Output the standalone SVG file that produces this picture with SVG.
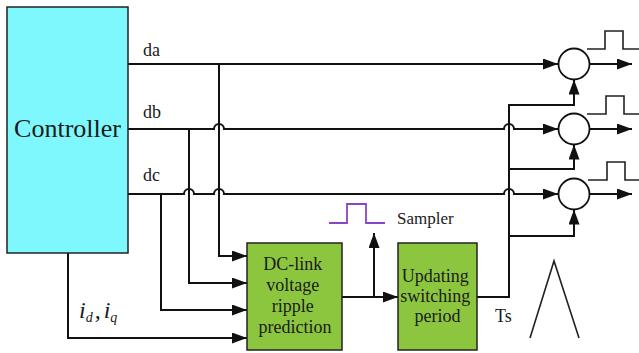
<svg xmlns="http://www.w3.org/2000/svg" width="639" height="353" viewBox="0 0 639 353">
  <style>
    .wire { fill: none; stroke: #111; stroke-width: 2; }
    .arr { marker-end: url(#ah); }
    .thin { fill: none; stroke: #222; stroke-width: 1.6; }
    .lbl { font-family: "Liberation Serif", "Times New Roman", serif; fill: #1a1a1a; }
    .box { stroke: #222; stroke-width: 1.5; }
  </style>
  <defs>
    <marker id="ah" viewBox="0 0 15 11" refX="15" refY="5.5" markerWidth="15" markerHeight="11" orient="auto" markerUnits="userSpaceOnUse">
      <path d="M0,0 L15,5.5 L0,11 z" fill="#111"/>
    </marker>
  </defs>

  <rect width="639" height="353" fill="#fff"/>

  <!-- connectors -->
  <g id="connectors">
    <!-- duty signals da, db, dc to the comparators -->
    <path class="wire arr" d="M128,64 H558"/>
    <path class="wire arr" d="M128,129 H214 a5,5 0 0 1 10,0 H504 a5,5 0 0 1 10,0 H558"/>
    <path class="wire arr" d="M128,194 H184 a5,5 0 0 1 10,0 H214 a5,5 0 0 1 10,0 H504 a5,5 0 0 1 10,0 H558"/>
    <!-- taps into the ripple prediction block -->
    <path class="wire arr" d="M219,64 V256 H247"/>
    <path class="wire arr" d="M189,129 V283 H247"/>
    <path class="wire arr" d="M161,194 V310 H247"/>
    <path class="wire arr" d="M68,253 V338 H247"/>
    <!-- prediction to updating block, sampler trigger -->
    <path class="wire arr" d="M342,297 H398"/>
    <path class="wire arr" d="M374,297 V233"/>
    <!-- Ts carrier to the comparators -->
    <path class="wire arr" d="M477,297 H509 V105 H574 V79.5"/>
    <path class="wire arr" d="M509,169 H574 V144.5"/>
    <path class="wire arr" d="M509,236 H574 V209.5"/>
    <!-- comparator outputs -->
    <path class="wire arr" d="M589.5,64 H632"/>
    <path class="wire arr" d="M589.5,129 H632"/>
    <path class="wire arr" d="M589.5,194 H632"/>
  </g>

  <!-- controller -->
  <g id="controller">
    <rect class="box" x="7" y="7" width="121" height="246" fill="#7ef8fc"/>
    <text class="lbl" x="67.5" y="137" font-size="26" text-anchor="middle">Controller</text>
  </g>

  <g id="signal-labels">
    <text class="lbl" x="143" y="56" font-size="18">da</text>
    <text class="lbl" x="143" y="118" font-size="18">db</text>
    <text class="lbl" x="143" y="181" font-size="18">dc</text>
    <text class="lbl" x="79" y="318" font-size="24" font-style="italic">i<tspan font-size="14" dy="4">d</tspan><tspan dy="-4" dx="2">,</tspan><tspan dx="3">i</tspan><tspan font-size="14" dy="4">q</tspan></text>
  </g>

  <!-- ripple prediction block -->
  <g id="ripple-prediction">
    <rect class="box" x="247" y="243" width="95" height="107" fill="#8cc63f"/>
    <text class="lbl" font-size="18" text-anchor="middle">
      <tspan x="295" y="270">DC-link</tspan>
      <tspan x="295" y="291">voltage</tspan>
      <tspan x="295" y="312">ripple</tspan>
      <tspan x="295" y="333">prediction</tspan>
    </text>
  </g>

  <!-- switching period update block -->
  <g id="updating-period">
    <rect class="box" x="398" y="243" width="79" height="107" fill="#8cc63f"/>
    <text class="lbl" font-size="18" text-anchor="middle">
      <tspan x="437.5" y="282">Updating</tspan>
      <tspan x="437.5" y="302">switching</tspan>
      <tspan x="437.5" y="322">period</tspan>
    </text>
  </g>

  <!-- sampler pulse -->
  <g id="sampler">
    <path d="M329,223 H347 V204 H366 V223 H385" fill="none" stroke="#8a44c8" stroke-width="1.8"/>
    <text class="lbl" x="397" y="224" font-size="17">Sampler</text>
  </g>

  <g id="ts-label">
    <text class="lbl" x="495" y="322" font-size="18">Ts</text>
  </g>

  <!-- triangular carrier -->
  <g id="carrier">
    <path class="thin" d="M530,338 L554,261 L579,338"/>
  </g>

  <!-- comparators with PWM output pulses -->
  <g id="comparator-a">
    <circle cx="574" cy="64" r="15.5" fill="#fff" stroke="#111" stroke-width="1.8"/>
    <path class="thin" d="M587,49 H605 V31 H623 V49 H639"/>
  </g>
  <g id="comparator-b">
    <circle cx="574" cy="129" r="15.5" fill="#fff" stroke="#111" stroke-width="1.8"/>
    <path class="thin" d="M587,114 H606 V96 H624 V114 H639"/>
  </g>
  <g id="comparator-c">
    <circle cx="574" cy="194" r="15.5" fill="#fff" stroke="#111" stroke-width="1.8"/>
    <path class="thin" d="M588,180 H607 V162 H625 V180 H639"/>
  </g>
</svg>
